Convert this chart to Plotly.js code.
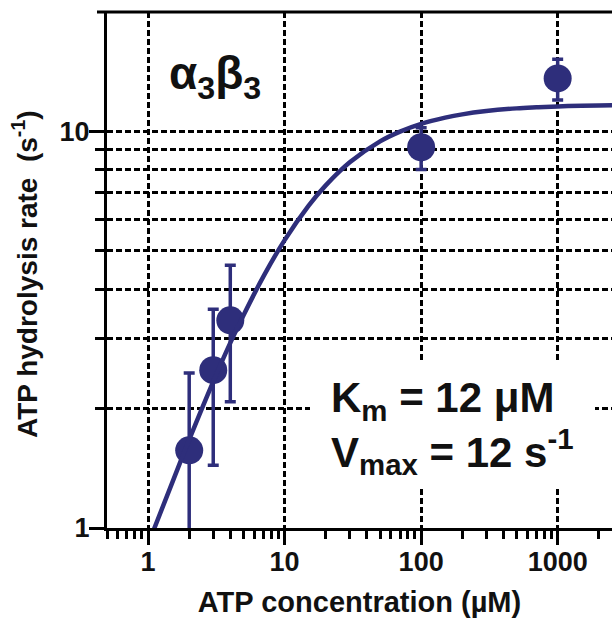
<!DOCTYPE html>
<html>
<head>
<meta charset="utf-8">
<script src="https://cdn.plot.ly/plotly-3.0.1.min.js"></script>
<style>html,body{margin:0;padding:0;background:#fff;overflow:hidden;}</style>
</head>
<body>
<div id="chart" style="width:612px;height:626px;"></div>
<script>
// Measured points (ATP concentration in µM, rate in s^-1, ± error)
const atpConc = [2, 3, 4, 100, 1000];
const rate = [1.57, 2.50, 3.34, 9.12, 13.6];
const rateErr = [0.89, 1.06, 1.26, 1.10, 1.6];

// Fitted curve
const fitConc = [1.05, 1.5, 2, 3, 4, 5, 7, 10, 15, 20, 30, 50, 70, 100, 150, 200, 300, 500, 700, 1000, 1500, 2000, 2500];
const fitRate = [0.95, 1.30, 1.67, 2.34, 2.93, 3.44, 4.31, 5.32, 6.50, 7.31, 8.36, 9.44, 9.99, 10.45, 10.83, 11.04, 11.25, 11.43, 11.50, 11.56, 11.61, 11.63, 11.64];

// Tick labels
const xTickVals = [1, 10, 100, 1000];
const xTickText = ["1", "10", "100", "1000"];
const yTickVals = [1, 10];
const yTickText = ["1", "10"];

const navy = "#2e2e7b";
const FONT = "Arial, Liberation Sans, sans-serif";
const dash = "6px,3px";

const xMinor = [];
[0.1, 1, 10, 100, 1000].forEach(d => { for (let k = 2; k <= 9; k++) { const v = k * d; if (v >= 0.5 && v <= 2500 && v !== 1 && v !== 10) xMinor.push(v); } });
const yMinor = [2, 3, 4, 5, 6, 7, 8, 9];

const traces = [
  {
    x: atpConc, y: rate, type: "scatter", mode: "markers",
    marker: {size: 28, color: navy, line: {width: 0}},
    error_y: {type: "data", array: rateErr, visible: true, color: navy, thickness: 3.5, width: 5.5},
    cliponaxis: false, hoverinfo: "skip"
  },
  {
    x: fitConc, y: fitRate, type: "scatter", mode: "lines",
    line: {color: navy, width: 4.5, shape: "spline"}, hoverinfo: "skip"
  }
];

const layout = {
  width: 612, height: 626,
  margin: {l: 107, r: 0, t: 12, b: 98},
  paper_bgcolor: "#fff", plot_bgcolor: "#fff",
  showlegend: false,
  font: {family: FONT, color: "#000"},
  xaxis: {
    type: "log", range: [Math.log10(0.5), Math.log10(2500)],
    showline: true, linewidth: 3, linecolor: "#000", zeroline: false,
    ticks: "outside", ticklen: 14, tickwidth: 3, tickcolor: "#000",
    tickmode: "array", tickvals: xTickVals, ticktext: xTickText,
    tickfont: {family: FONT, size: 27, weight: "bold", color: "#111"},
    ticklabelstandoff: -6,
    showgrid: true, gridcolor: "#000", gridwidth: 3, griddash: dash,
    minor: {tickmode: "array", tickvals: xMinor, ticks: "outside", ticklen: 8, tickwidth: 3, tickcolor: "#000", showgrid: false},
    title: {text: "ATP concentration (µM)", font: {family: FONT, size: 29, weight: "bold", color: "#111"}, standoff: 16}
  },
  yaxis: {
    type: "log", range: [0, Math.log10(20)],
    showline: true, linewidth: 3, linecolor: "#000", zeroline: false,
    ticks: "outside", ticklen: 15, tickwidth: 3, tickcolor: "#000",
    tickmode: "array", tickvals: yTickVals, ticktext: yTickText,
    tickfont: {family: FONT, size: 27, weight: "bold", color: "#111"},
    ticklabelstandoff: -6,
    showgrid: true, gridcolor: "#000", gridwidth: 3, griddash: dash,
    minor: {tickmode: "array", tickvals: yMinor, ticks: "outside", ticklen: 9, tickwidth: 3, tickcolor: "#000",
            showgrid: true, gridcolor: "#000", gridwidth: 3, griddash: dash}
  },
  shapes: [
    {type: "line", xref: "paper", yref: "paper", x0: -10/505, x1: 1, y0: 1, y1: 1, line: {color: "#000", width: 3}, layer: "above"},
    {type: "rect", xref: "paper", yref: "paper", x0: (310-107)/505, x1: (595-107)/505, y0: (528-486)/516, y1: (528-362)/516,
     fillcolor: "#ffffff", opacity: 1, line: {width: 0}, layer: "above"}
  ],
  annotations: [
    {text: "ATP hydrolysis rate&nbsp;&nbsp;(s<sup>-1</sup>)", textangle: -90, xref: "paper", yref: "paper",
     x: (25-107)/505, y: (528-274)/516, xanchor: "center", yanchor: "middle", showarrow: false,
     font: {family: FONT, size: 28, weight: "bold", color: "#111"}},
    {text: "α<sub>3</sub>β<sub>3</sub>", xref: "paper", yref: "paper", x: (167-107)/505, y: (528-76)/516,
     xanchor: "left", yanchor: "middle", showarrow: false, font: {family: FONT, size: 46, weight: "bold", color: "#111"}},
    {text: "K<sub>m</sub> = 12 μM", xref: "paper", yref: "paper", x: (329-107)/505, y: (528-400)/516,
     xanchor: "left", yanchor: "middle", showarrow: false, font: {family: FONT, size: 42, weight: "bold", color: "#111"}},
    {text: "V<sub>max</sub> = 12 s<sup>-1</sup>", xref: "paper", yref: "paper", x: (329-107)/505, y: (528-451)/516,
     xanchor: "left", yanchor: "middle", showarrow: false, font: {family: FONT, size: 42, weight: "bold", color: "#111"}}
  ]
};

Plotly.newPlot("chart", traces, layout, {staticPlot: true, displayModeBar: false});
</script>
</body>
</html>
